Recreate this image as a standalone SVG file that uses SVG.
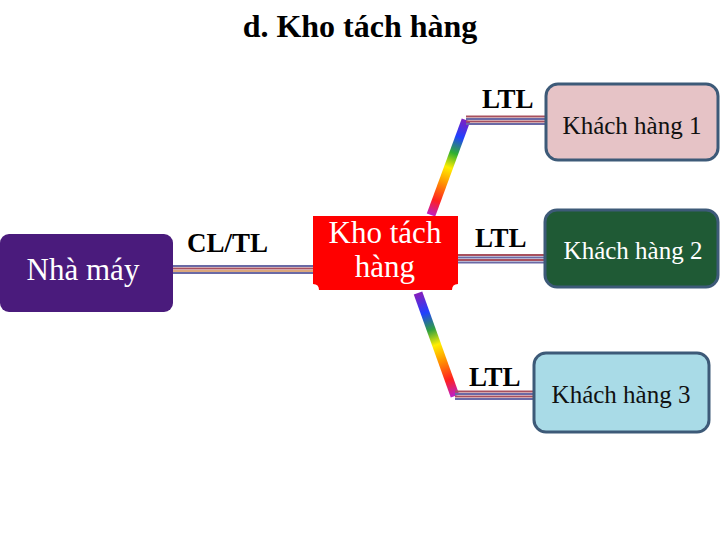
<svg xmlns="http://www.w3.org/2000/svg" width="720" height="540" viewBox="0 0 720 540">
<defs>
<style>
.serif{font-family:"Liberation Serif","Times New Roman",serif}
.lbl{font-family:"Liberation Serif","Times New Roman",serif;font-weight:bold;fill:#000;font-size:27px}
.kh{stroke:#3d5a78;stroke-width:3}
.s1{stroke:#a8505e;stroke-width:2}
.s2{stroke:#6a6aa6;stroke-width:2}
.s3{stroke:#d08a50;stroke-width:1.5}
</style>
<linearGradient id="rbTop" gradientUnits="userSpaceOnUse" x1="431" y1="215" x2="466" y2="120">
<stop offset="0" stop-color="#c020c0"/>
<stop offset="0.15" stop-color="#ff2020"/>
<stop offset="0.35" stop-color="#ff9900"/>
<stop offset="0.5" stop-color="#ffee00"/>
<stop offset="0.65" stop-color="#30b030"/>
<stop offset="0.82" stop-color="#2040ff"/>
<stop offset="1" stop-color="#8020c0"/>
</linearGradient>
<linearGradient id="rbBot" gradientUnits="userSpaceOnUse" x1="418" y1="295" x2="454" y2="395">
<stop offset="0" stop-color="#8020c0"/>
<stop offset="0.18" stop-color="#2040ff"/>
<stop offset="0.35" stop-color="#30a040"/>
<stop offset="0.5" stop-color="#ffee00"/>
<stop offset="0.65" stop-color="#ff9900"/>
<stop offset="0.85" stop-color="#ff2020"/>
<stop offset="1" stop-color="#c020c0"/>
</linearGradient>
</defs>
<rect width="720" height="540" fill="#fff"/>
<text class="serif" x="360" y="37" font-size="32" font-weight="bold" text-anchor="middle">d. Kho tách hàng</text>

<g id="connectors">
  <g>
    <line class="s2" x1="173" y1="266" x2="313" y2="266"/>
    <line class="s1" x1="173" y1="268.5" x2="313" y2="268.5"/>
    <line class="s3" x1="173" y1="271" x2="313" y2="271"/>
    <line class="s2" x1="173" y1="273" x2="313" y2="273"/>
  </g>
  <line x1="431" y1="215" x2="466" y2="120" stroke="url(#rbTop)" stroke-width="9"/>
  <g>
    <line class="s1" x1="466" y1="116.5" x2="546" y2="116.5"/>
    <line class="s2" x1="466" y1="119" x2="546" y2="119"/>
    <line class="s1" x1="466" y1="121.5" x2="546" y2="121.5"/>
    <line class="s2" x1="466" y1="124" x2="546" y2="124"/>
  </g>
  <g>
    <line class="s1" x1="457" y1="255" x2="546" y2="255"/>
    <line class="s2" x1="457" y1="257.5" x2="546" y2="257.5"/>
    <line class="s1" x1="457" y1="260" x2="546" y2="260"/>
    <line class="s2" x1="457" y1="262.5" x2="546" y2="262.5"/>
  </g>
  <line x1="418" y1="293" x2="455" y2="396" stroke="url(#rbBot)" stroke-width="9"/>
  <g>
    <line class="s1" x1="455" y1="391.5" x2="534" y2="391.5"/>
    <line class="s2" x1="455" y1="394" x2="534" y2="394"/>
    <line class="s1" x1="455" y1="396.5" x2="534" y2="396.5"/>
    <line class="s2" x1="455" y1="399" x2="534" y2="399"/>
  </g>
</g>

<text class="lbl" x="187" y="252">CL/TL</text>
<text class="lbl" x="482" y="108">LTL</text>
<text class="lbl" x="475" y="247">LTL</text>
<text class="lbl" x="469" y="386">LTL</text>

<g id="nha-may">
  <rect x="0" y="234" width="173" height="78" rx="9" fill="#4a1b7c"/>
  <text class="serif" x="83" y="280" font-size="31" fill="#fff" text-anchor="middle">Nhà máy</text>
</g>

<g id="kho-tach-hang">
  <path d="M313,216 H458 V284 Q452,284 452,290 H319 Q319,284 313,284 Z" fill="#ff0000"/>
  <text class="serif" x="385" y="243" font-size="31" fill="#fff" text-anchor="middle">Kho tách</text>
  <text class="serif" x="385" y="277" font-size="31" fill="#fff" text-anchor="middle">hàng</text>
</g>

<g id="khach-hang-1">
  <rect class="kh" x="546" y="84" width="172" height="76" rx="12" fill="#e6c3c6"/>
  <text class="serif" x="632" y="134" font-size="25" fill="#111" text-anchor="middle">Khách hàng 1</text>
</g>

<g id="khach-hang-2">
  <rect class="kh" x="545" y="210" width="173" height="77" rx="12" fill="#1f5a35"/>
  <text class="serif" x="633" y="259" font-size="25" fill="#fff" text-anchor="middle">Khách hàng 2</text>
</g>

<g id="khach-hang-3">
  <rect class="kh" x="534" y="353" width="175" height="79" rx="12" fill="#a9dbe7"/>
  <text class="serif" x="621" y="403" font-size="25" fill="#111" text-anchor="middle">Khách hàng 3</text>
</g>
</svg>
